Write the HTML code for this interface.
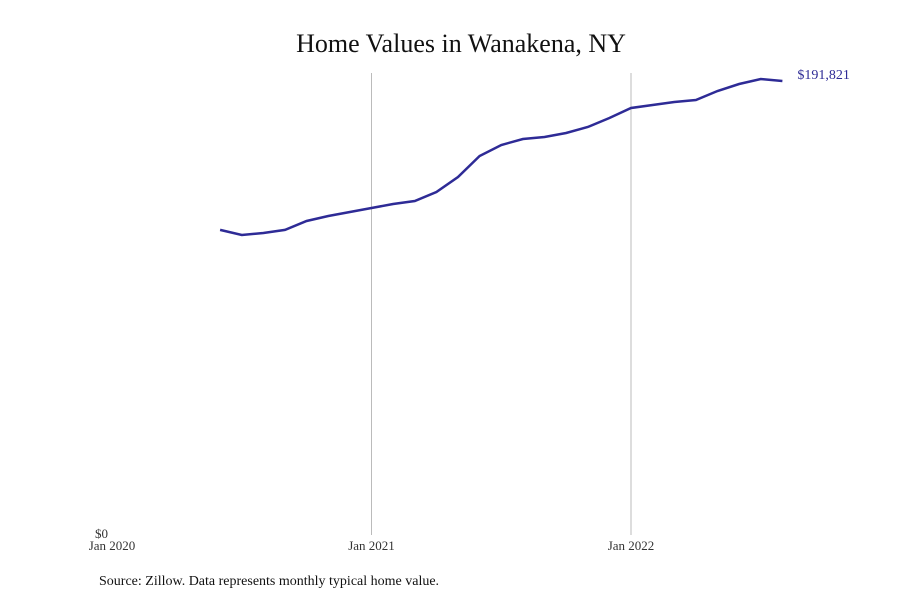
<!DOCTYPE html>
<html><head><meta charset="utf-8"><style>
body{margin:0;background:#fff;}
svg text{font-family:"Liberation Serif",serif;}
</style></head><body>
<svg id="chart" width="900" height="600">
<text x="461" y="52" text-anchor="middle" font-size="26" fill="#111">Home Values in Wanakena, NY</text>
<g id="grid"></g>
<g id="xticks"></g>
<text x="108" y="538" text-anchor="end" font-size="13" fill="#333">$0</text>
<path id="line" fill="none" stroke="#2e2b96" stroke-width="2.5"></path>
<text id="endlabel" font-size="14" fill="#2e2b96"></text>
<text x="99" y="585" font-size="14" fill="#111">Source: Zillow. Data represents monthly typical home value.</text>
</svg>
<script>
const tickLabels=["Jan 2020","Jan 2021","Jan 2022"];
const tickMonths=[0,12,24];
const startMonth=5;
const values=[128900,126750,127600,128900,132670,134780,136470,138160,139850,141120,144920,151260,160130,164780,167310,168160,169850,172380,176180,180410,181680,182940,183790,187590,190550,192660,191821];
const endLabel="$191,821";
const x=m=>112+m*(519/24);
const y=v=>535-v*(454/191821);
const ns="http://www.w3.org/2000/svg";
const grid=document.getElementById('grid'),xt=document.getElementById('xticks');
tickMonths.forEach((m,i)=>{
 if(i>0){const l=document.createElementNS(ns,'line');
 l.setAttribute('x1',x(m));l.setAttribute('x2',x(m));l.setAttribute('y1',73);l.setAttribute('y2',535);
 l.setAttribute('stroke','#bbb');l.setAttribute('stroke-width',1);
 
 
 grid.appendChild(l);}
 const t=document.createElementNS(ns,'text');
 t.setAttribute('x',x(m));t.setAttribute('y',550);t.setAttribute('text-anchor','middle');
 t.setAttribute('font-size','13');t.setAttribute('fill','#333');t.textContent=tickLabels[i];
 
 
 xt.appendChild(t);
});
document.getElementById('line').setAttribute('d',values.map((v,i)=>(i?'L':'M')+x(startMonth+i).toFixed(1)+','+y(v).toFixed(1)).join(''));
const el=document.getElementById('endlabel');
el.setAttribute('x',x(startMonth+values.length-1)+15);
el.setAttribute('y',y(values[values.length-1])-2);
el.textContent=endLabel;
</script>
</body></html>
